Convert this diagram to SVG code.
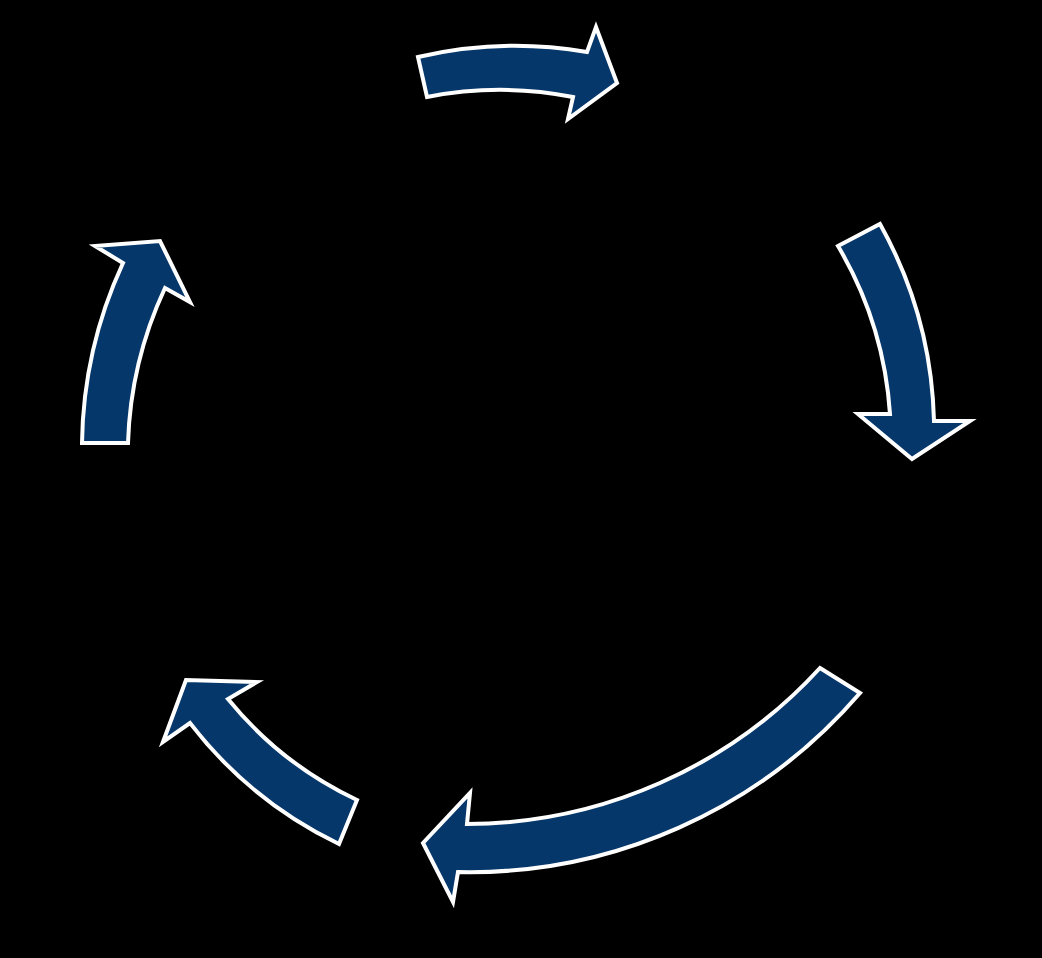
<svg xmlns="http://www.w3.org/2000/svg" width="1042" height="958" viewBox="0 0 1042 958">
<style>
.arrow{fill:#06376b;stroke:#ffffff;stroke-width:4;stroke-linejoin:miter}
</style>
<rect x="0" y="0" width="1042" height="958" fill="#000000"/>
<g id="connectors">
<g id="arrow-top"><path class="arrow" d="M418,57 A424,424 0 0 1 587,52 L596,27 L617,83 L568,119 L573,97 A380,380 0 0 0 427,97 Z"/></g>
<g id="arrow-right"><path class="arrow" d="M838,246 L880,224 A425,425 0 0 1 934,421 L970,421 L912,459 L858,414 L890,414 A380,380 0 0 0 838,246 Z"/></g>
<g id="arrow-bottom"><path class="arrow" d="M820,668 L860,693 A515,515 0 0 1 458,872 L453,902 L423,843 L470,793 L467,824 A480,480 0 0 0 820,668 Z"/></g>
<g id="arrow-lower-left"><path class="arrow" d="M357,800 L339,844 A416,416 0 0 1 190,723 L163,742 L186,680 L257,682 L228,699 A370,370 0 0 0 357,800 Z"/></g>
<g id="arrow-upper-left"><path class="arrow" d="M82,443 A443,443 0 0 1 123,263 L95,246 L160,241 L190,302 L165,288 A396,396 0 0 0 128,443 Z"/></g>
</g>
</svg>
